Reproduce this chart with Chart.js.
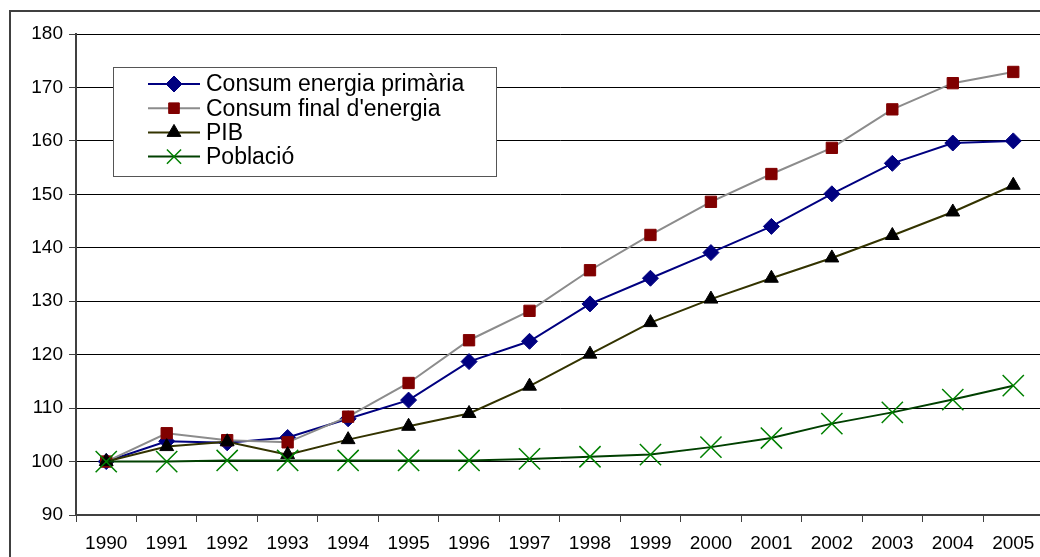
<!DOCTYPE html>
<html>
<head>
<meta charset="utf-8">
<script src="https://cdn.jsdelivr.net/npm/chart.js"></script>
<style>
html, body { margin: 0; padding: 0; width: 1040px; height: 557px; overflow: hidden; background: #fff; }
#frame { position: absolute; left: 9px; top: 10px; width: 1100px; height: 600px; border: 2px solid #404040; }
#wrap { position: absolute; left: 0; top: 0; width: 1060px; height: 557px; }
</style>
</head>
<body>
<div id="frame"></div>
<div id="wrap"><canvas id="chart" width="1060" height="557"></canvas></div>
<script>
// index values, 1990 = 100
var years = ['1990', '1991', '1992', '1993', '1994', '1995', '1996', '1997',
             '1998', '1999', '2000', '2001', '2002', '2003', '2004', '2005'];
var primaria = [100, 103.8, 103.5, 104.5, 108, 111.5, 118.7, 122.5, 129.5, 134.3, 139.1, 144, 150.1, 155.8, 159.6, 160];
var consumFinal = [100, 105.3, 104, 103.6, 108.4, 114.7, 122.7, 128.2, 135.8, 142.4, 148.6, 153.8, 158.7, 165.9, 170.8, 172.9];
var pib = [100, 102.8, 103.7, 101.3, 104.1, 106.6, 109, 114.1, 120.1, 126, 130.4, 134.3, 138.1, 142.3, 146.7, 151.7];
var poblacio = [100, 100, 100.2, 100.2, 100.2, 100.2, 100.2, 100.5, 100.9, 101.3, 102.7, 104.4, 107.1, 109.2, 111.6, 114.2];
var labels = ['Consum energia primària', "Consum final d'energia", 'PIB', 'Població'];

Chart.defaults.font.family = "'Liberation Sans', Arial, sans-serif";
Chart.defaults.color = '#000';

// legend drawn inside the plot, like the original
var legendBox = {
    id: 'legendBox',
    afterDraw: function(chart) {
        var ctx = chart.ctx;
        var sets = chart.data.datasets;
        ctx.save();
        ctx.fillStyle = '#fff';
        ctx.fillRect(113, 67, 384, 110);
        ctx.strokeStyle = '#555';
        ctx.lineWidth = 1;
        ctx.strokeRect(113.5, 67.5, 383, 109);
        for (var i = 0; i < sets.length; i++) {
            var ds = sets[i];
            var y = 84 + i * 24.2;
            ctx.beginPath();
            ctx.strokeStyle = ds.borderColor;
            ctx.lineWidth = ds.borderWidth;
            ctx.moveTo(148, y);
            ctx.lineTo(200, y);
            ctx.stroke();
            ctx.fillStyle = ds.pointBackgroundColor;
            ctx.strokeStyle = ds.pointBorderColor;
            ctx.lineWidth = ds.pointBorderWidth;
            Chart.helpers.drawPoint(ctx, {
                pointStyle: ds.pointStyle,
                radius: ds.legendRadius,
                rotation: 0,
                borderWidth: ds.pointBorderWidth
            }, 174, y);
            ctx.fillStyle = '#000';
            ctx.font = "23px 'Liberation Sans', Arial, sans-serif";
            ctx.textBaseline = 'middle';
            ctx.fillText(ds.label, 206, y + 1);
        }
        ctx.restore();
    }
};

new Chart(document.getElementById('chart'), {
    type: 'line',
    data: {
        labels: years,
        datasets: [{
            label: labels[0],
            data: primaria,
            borderColor: '#000080',
            borderWidth: 2,
            pointStyle: 'rectRot',
            pointRadius: 8,
            legendRadius: 8,
            pointBackgroundColor: '#000080',
            pointBorderColor: '#000080',
            pointBorderWidth: 1,
            order: 3
        }, {
            label: labels[1],
            data: consumFinal,
            borderColor: '#8c8c8c',
            borderWidth: 2,
            pointStyle: 'rect',
            pointRadius: 8,
            legendRadius: 7.5,
            pointBackgroundColor: '#800000',
            pointBorderColor: '#800000',
            pointBorderWidth: 1,
            order: 2
        }, {
            label: labels[2],
            data: pib,
            borderColor: '#333300',
            borderWidth: 2,
            pointStyle: 'triangle',
            pointRadius: 8,
            legendRadius: 8,
            pointBackgroundColor: '#000',
            pointBorderColor: '#000',
            pointBorderWidth: 1,
            order: 1
        }, {
            label: labels[3],
            data: poblacio,
            borderColor: '#004000',
            borderWidth: 2,
            pointStyle: 'crossRot',
            pointRadius: 15,
            legendRadius: 10,
            pointBackgroundColor: '#008000',
            pointBorderColor: '#008000',
            pointBorderWidth: 1.5,
            order: 0
        }]
    },
    options: {
        responsive: false,
        animation: false,
        layout: { padding: { top: 34, right: 15, left: 0, bottom: 0 } },
        plugins: {
            legend: { display: false },
            tooltip: { enabled: false }
        },
        elements: { line: { tension: 0 } },
        scales: {
            x: {
                offset: true,
                afterFit: function(scale) { scale.height = 42; },
                grid: { drawOnChartArea: false, drawTicks: true, tickLength: 7, tickColor: '#404040', offset: true },
                border: { color: '#404040', width: 2 },
                ticks: { font: { size: 19 }, padding: 10, maxRotation: 0, autoSkip: false }
            },
            y: {
                min: 90,
                max: 180,
                afterFit: function(scale) { scale.width = 76; },
                grid: { color: '#000', lineWidth: 1, tickLength: 7, tickColor: '#404040' },
                border: { color: '#404040', width: 2 },
                ticks: { stepSize: 10, font: { size: 19 }, padding: 6 }
            }
        }
    },
    plugins: [legendBox]
});
</script>
</body>
</html>
